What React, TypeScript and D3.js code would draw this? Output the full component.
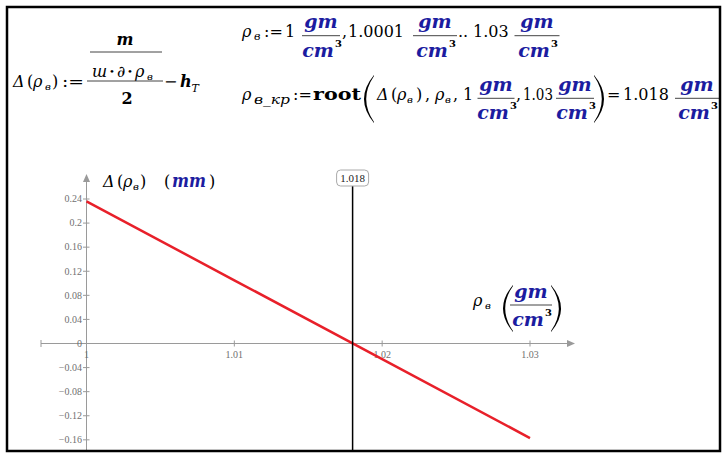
import React from 'react';
import * as d3 from 'd3';

// ---- data ----
const rhoValues = [1, 1.01, 1.02, 1.03];
const deltaValues = [0.236, 0.105, -0.026, -0.157];
const xTickValues = [1, 1.01, 1.02, 1.03];
const xTickLabels = ['1', '1.01', '1.02', '1.03'];
const yTickValues = [0.24, 0.2, 0.16, 0.12, 0.08, 0.04, 0, -0.04, -0.08, -0.12, -0.16];
const yTickLabels = ['0.24', '0.2', '0.16', '0.12', '0.08', '0.04', '0', '\u22120.04', '\u22120.08', '\u22120.12', '\u22120.16'];
const rootValue = 1.018;
const rootLabel = '1.018';

const W = 723;
const H = 457;
const SERIF = "'DejaVu Serif', serif";
const TICKFONT = "'Liberation Serif', serif";
const BLUE = '#1c1ca0';
const AXIS = '#9a9a9a';

const x = d3.scaleLinear().domain([1, 1.03]).range([86.5, 530]);
const y = d3.scaleLinear().domain([0, 0.24]).range([343.5, 199]);

const lineGen = d3
  .line<number>()
  .x((_, i) => x(rhoValues[i]))
  .y((d) => y(d));

function T(props: any) {
  return <text fontFamily={SERIF} fontSize={16} fill="#000" {...props} />;
}

function UnitFrac({ cx, by, w }: { cx: number; by: number; w: number }) {
  return (
    <g>
      <T x={cx} y={by - 7.5} textAnchor="middle" fontSize={19} fontStyle="italic" fontWeight="bold" fill={BLUE}>gm</T>
      <line x1={cx - w / 2} x2={cx + w / 2} y1={by} y2={by} stroke="#444" strokeWidth={1} />
      <T x={cx - 3} y={by + 21} textAnchor="middle" fontSize={19} fontStyle="italic" fontWeight="bold" fill={BLUE}>cm</T>
      <T x={cx + 14} y={by + 11} fontSize={10} fontWeight="bold">3</T>
    </g>
  );
}

function paren(x0: number, x1: number, top: number, bot: number, left: boolean, t = 2.2) {
  const mid = (top + bot) / 2;
  if (left) {
    const co = 2 * x0 - x1;
    const ci = 2 * (x0 + t) - x1;
    return `M${x1},${top} Q${co},${mid} ${x1},${bot} L${x1},${bot - 1} Q${ci},${mid} ${x1},${top + 1} Z`;
  }
  const co = 2 * x1 - x0;
  const ci = 2 * (x1 - t) - x0;
  return `M${x0},${top} Q${co},${mid} ${x0},${bot} L${x0},${bot - 1} Q${ci},${mid} ${x0},${top + 1} Z`;
}

export default function App() {
  const x0 = x(1);
  const y0 = y(0);
  const rx = x(rootValue);
  return (
    <svg
      width={W}
      height={H}
      viewBox={`0 0 ${W} ${H}`}
      style={{ position: 'fixed', left: 0, top: 0, background: '#fff' }}
    >
      <rect x={0} y={0} width={W} height={H} fill="#fff" />

      {/* Formula 1 */}
      <g>
        <T x={13} y={87} fontStyle="italic">Δ</T>
        <T x={27} y={87}>(</T>
        <T x={33} y={87} fontStyle="italic">ρ</T>
        <T x={45} y={90} fontSize={10} fontStyle="italic">в</T>
        <T x={52} y={87}>)</T>
        <T x={62} y={87} textLength={22} lengthAdjust="spacingAndGlyphs">:=</T>
        <T x={125} y={45} textAnchor="middle" fontStyle="italic" fontWeight="bold">m</T>
        <line x1={90} x2={162} y1={52} y2={52} stroke="#444" strokeWidth={1} />
        <T x={92} y={77} fontStyle="italic">ш</T>
        <T x={109} y={75} fontSize={10}>•</T>
        <T x={117} y={77} fontStyle="italic">∂</T>
        <T x={127} y={75} fontSize={10}>•</T>
        <T x={135} y={77} fontStyle="italic">ρ</T>
        <T x={147} y={80} fontSize={10} fontStyle="italic">в</T>
        <line x1={87} x2={163} y1={81} y2={81} stroke="#444" strokeWidth={1} />
        <T x={127} y={104} textAnchor="middle" fontWeight="bold">2</T>
        <T x={164} y={87}>−</T>
        <T x={180} y={87} fontStyle="italic" fontWeight="bold">h</T>
        <T x={191.5} y={92} fontSize={11} fontStyle="italic">T</T>
      </g>

      {/* Formula 2 */}
      <g>
        <T x={242} y={37} fontStyle="italic">ρ</T>
        <T x={254} y={40} fontSize={11} fontStyle="italic">в</T>
        <T x={264} y={37}>:=</T>
        <T x={285} y={37}>1</T>
        <UnitFrac cx={321} by={35.7} w={38} />
        <T x={342} y={37}>,</T>
        <T x={348} y={37}>1.0001</T>
        <UnitFrac cx={435} by={35.7} w={44} />
        <T x={458} y={37}>..</T>
        <T x={473} y={37}>1.03</T>
        <UnitFrac cx={537} by={35.7} w={45} />
      </g>

      {/* Formula 3 */}
      <g>
        <T x={242} y={100} fontStyle="italic">ρ</T>
        <T x={254} y={104} fontSize={12} fontStyle="italic" textLength={36} lengthAdjust="spacingAndGlyphs">в_кр</T>
        <T x={293} y={100}>:=</T>
        <T x={313} y={100} fontWeight="bold" textLength={48} lengthAdjust="spacingAndGlyphs">root</T>
        <path d={paren(364, 374, 75, 123, true)} fill="#000" />
        <T x={377} y={100} fontStyle="italic">Δ</T>
        <T x={391} y={100}>(</T>
        <T x={397} y={100} fontStyle="italic">ρ</T>
        <T x={407} y={103} fontSize={10} fontStyle="italic">в</T>
        <T x={416} y={100}>)</T>
        <T x={425} y={100}>,</T>
        <T x={435} y={100} fontStyle="italic">ρ</T>
        <T x={445} y={103} fontSize={10} fontStyle="italic">в</T>
        <T x={453} y={100}>,</T>
        <T x={463} y={100}>1</T>
        <UnitFrac cx={496} by={98.3} w={37} />
        <T x={516} y={100}>,</T>
        <T x={523} y={100} textLength={30} lengthAdjust="spacingAndGlyphs">1.03</T>
        <UnitFrac cx={575} by={98.3} w={38} />
        <path d={paren(594, 604, 75, 123, false)} fill="#000" />
        <T x={607} y={100}>=</T>
        <T x={623} y={100}>1.018</T>
        <UnitFrac cx={697} by={98.3} w={44} />
      </g>

      {/* Chart axes */}
      <g>
        <line x1={41} x2={570} y1={y0} y2={y0} stroke={AXIS} strokeWidth={1} />
        <path d={`M${575},${y0} L${567},${y0 - 3.5} L${567},${y0 + 3.5} Z`} fill={AXIS} />
        <line x1={41} x2={41} y1={y0 - 3.5} y2={y0 + 3.5} stroke={AXIS} strokeWidth={1} />
        <line x1={x0} x2={x0} y1={452} y2={180} stroke={AXIS} strokeWidth={1} />
        <path d={`M${x0},${174} L${x0 - 3.5},${182} L${x0 + 3.5},${182} Z`} fill={AXIS} />
        {yTickValues.map((v, i) => (
          <g key={'y' + i}>
            <line x1={x0 - 3.5} x2={x0 + 3} y1={y(v)} y2={y(v)} stroke={AXIS} strokeWidth={1} />
            <text x={x0 - 4.5} y={y(v) + 3.3} textAnchor="end" fontFamily={TICKFONT} fontSize={10} fill="#707070">
              {yTickLabels[i]}
            </text>
          </g>
        ))}
        {xTickValues.map((v, i) => (
          <g key={'x' + i}>
            {i > 0 && <line x1={x(v)} x2={x(v)} y1={y0 - 3} y2={y0 + 3} stroke={AXIS} strokeWidth={1} />}
            <text x={x(v)} y={y0 + 14.5} textAnchor="middle" fontFamily={TICKFONT} fontSize={10} fill="#707070">
              {xTickLabels[i]}
            </text>
          </g>
        ))}
      </g>

      {/* data line */}
      <path d={lineGen(deltaValues) || ''} fill="none" stroke="#e8202a" strokeWidth={2.5} />

      {/* root marker */}
      <line x1={rx} x2={rx} y1={186} y2={452} stroke="#000" strokeWidth={1.5} />
      <rect x={rx - 16} y={170} width={32} height={16} rx={4} fill="#fff" stroke="#aaa" strokeWidth={1} />
      <text x={rx} y={181.5} textAnchor="middle" fontFamily={TICKFONT} fontSize={11} fill="#222">
        {rootLabel}
      </text>

      {/* y axis title */}
      <g>
        <T x={103} y={187} fontStyle="italic">Δ</T>
        <T x={117} y={187}>(</T>
        <T x={123} y={187} fontStyle="italic">ρ</T>
        <T x={133} y={190} fontSize={10} fontStyle="italic">в</T>
        <T x={140} y={187}>)</T>
        <T x={164} y={187}>(</T>
        <T x={172} y={187} fontSize={18} fontStyle="italic" fontWeight="bold" fill={BLUE} textLength={34} lengthAdjust="spacingAndGlyphs">mm</T>
        <T x={209} y={187}>)</T>
      </g>

      {/* x axis title */}
      <g>
        <T x={473} y={306} fontStyle="italic">ρ</T>
        <T x={485} y={309} fontSize={10} fontStyle="italic">в</T>
        <path d={paren(503, 513, 285, 332, true)} fill="#000" />
        <UnitFrac cx={531} by={305} w={42} />
        <path d={paren(551, 561, 285, 332, false)} fill="#000" />
      </g>

      {/* frame */}
      <rect x={7} y={7} width={713} height={444} fill="none" stroke="#000" strokeWidth={2.5} />
    </svg>
  );
}
